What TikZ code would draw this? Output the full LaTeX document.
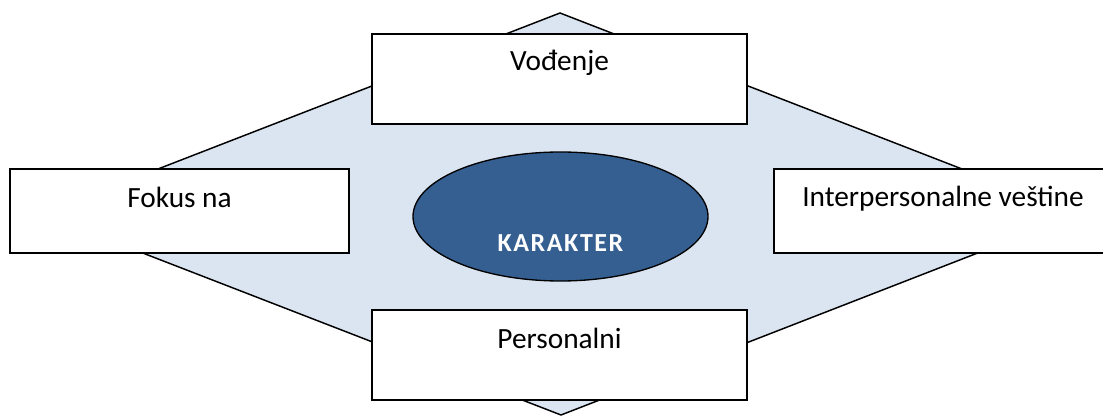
\documentclass[tikz,border=0pt]{standalone}
\usepackage{fontspec}
\setmainfont{Carlito}
\usetikzlibrary{shapes.geometric,calc}
\definecolor{diamfill}{HTML}{DBE5F1}
\definecolor{ellfill}{HTML}{365F91}
\begin{document}
\begin{tikzpicture}[x=0.75pt,y=-0.75pt,
  box/.style={draw=black,fill=white,line width=1.2pt,rectangle,inner sep=0pt},
  lbl/.style={anchor=base,inner sep=0pt,font=\fontsize{22}{26}\selectfont},
  diam/.style={draw=black,fill=diamfill,line width=1.1pt,line join=miter},
  core/.style={ellipse,draw=black,fill=ellfill,line width=1pt,inner sep=0pt,minimum width=221.25pt,minimum height=96.75pt},
  corelbl/.style={anchor=base,inner sep=0pt,text=white,font=\fontsize{19.5}{22}\selectfont\bfseries\addfontfeature{LetterSpace=6}}]
\useasboundingbox (0,0) rectangle (1103,416);
\coordinate (dt) at (560,13);
\coordinate (dr) at (1078,214);
\coordinate (db) at (561,415);
\coordinate (dl) at (42,214);
\draw[diam] (dt) -- (dr) -- (db) -- (dl) -- cycle;
\node[box,minimum width=281.25pt,minimum height=67.5pt] (top) at (559.5,79) {};
\node[box,minimum width=254.25pt,minimum height=63pt] (left) at (179.5,211) {};
\node[box,minimum width=253.5pt,minimum height=63pt] (right) at (943,211) {};
\node[box,minimum width=281.25pt,minimum height=67.5pt] (bottom) at (559.5,355) {};
\node[core] (ell) at (560.5,216.5) {};
\node[lbl] (ttop) at ($(top.north)+(0,37.5)$) {Vođenje};
\node[lbl] (tleft) at ($(left.north)+(0,39)$) {Fokus na};
\node[lbl] (tright) at ($(right.north)+(0,38)$) {Interpersonalne veštine};
\node[lbl] (tbottom) at ($(bottom.north)+(0,39.5)$) {Personalni};
\node[corelbl] (tcore) at (560.5,252) {KARAKTER};
\end{tikzpicture}
\end{document}
